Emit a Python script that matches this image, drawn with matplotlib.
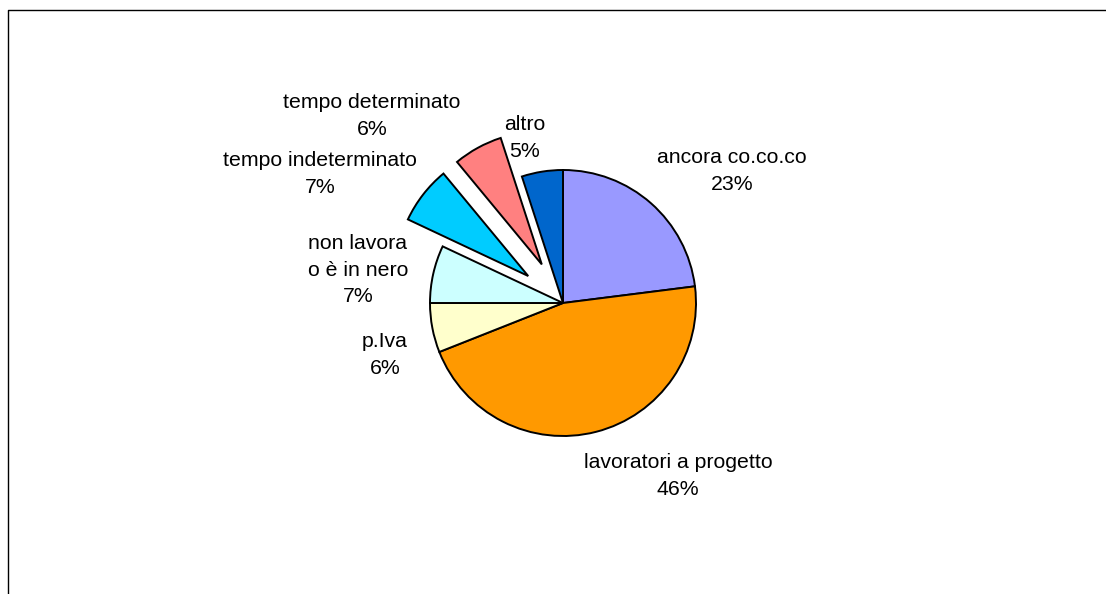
import matplotlib
matplotlib.use("Agg")
import matplotlib.pyplot as plt
from matplotlib.lines import Line2D

plt.rcParams['font.family'] = ['Liberation Sans', 'DejaVu Sans']

# data, clockwise from 12 o'clock
labels = ['ancora co.co.co', 'lavoratori a progetto', 'p.Iva',
          'non lavora\no è in nero', 'tempo indeterminato',
          'tempo determinato', 'altro']
shares = [23, 46, 6, 7, 7, 6, 5]
colors = ['#9999FF', '#FF9900', '#FFFFCC', '#CCFFFF', '#00CCFF',
          '#FF8080', '#0066CC']
exploded = [0, 0, 0, 0, 1, 1, 0]

# layout in pixels (y measured from the top of the picture)
W, H = 1106, 594
cx, cy, R = 563, 303, 133
label_xy = [(732, 171), (678, 476), (385, 355), (358, 270),
            (320, 174), (372, 116), (525, 138)]

fig = plt.figure(figsize=(W / 100, H / 100), dpi=100)
ax = fig.add_axes([0, 0, 1, 1])
ax.set_xlim(0, W)
ax.set_ylim(0, H)
ax.set_aspect('equal')
ax.axis('off')

ax.pie(shares, colors=colors, startangle=90, counterclock=False,
       center=(cx, H - cy), radius=R,
       explode=[44 * e for e in exploded],
       wedgeprops=dict(edgecolor='black', linewidth=1.4))
ax.set_xlim(0, W)
ax.set_ylim(0, H)

for lab, val, (lx, ly) in zip(labels, shares, label_xy):
    ax.text(lx, H - ly, f'{lab}\n{val}%', ha='center', va='center',
            fontsize=15.3, linespacing=1.5, color='black')

# chart area frame (left and top edges visible)
fig.add_artist(Line2D([7.5 / W, 7.5 / W, 1], [0, 1 - 9.5 / H, 1 - 9.5 / H],
                      transform=fig.transFigure, color='black', lw=1.0))

fig.savefig('out.png', dpi=100, facecolor='white')
